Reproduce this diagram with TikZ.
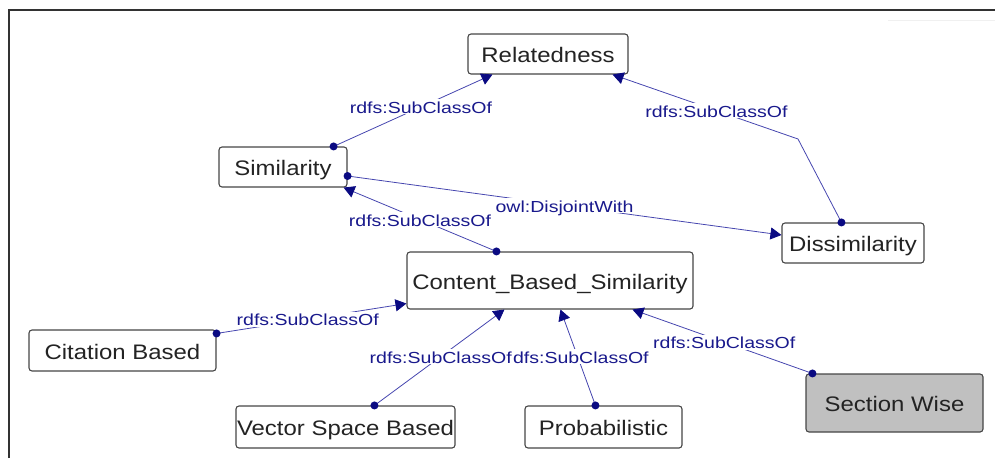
\documentclass[tikz,border=0pt]{standalone}
\usepackage{fontspec}
\setmainfont{Liberation Sans}
\newfontfamily\nodefont[FakeStretch=1.14]{Liberation Sans}
\newfontfamily\labfont[FakeStretch=1.22]{Liberation Sans}
\usetikzlibrary{arrows.meta,calc}

\definecolor{edgeblue}{RGB}{70,70,175}
\definecolor{tipnavy}{RGB}{10,10,130}
\definecolor{labnavy}{RGB}{25,25,140}
\definecolor{boxline}{RGB}{70,70,70}
\definecolor{boxtext}{RGB}{35,35,35}
\definecolor{selgray}{RGB}{192,192,192}
\definecolor{framegray}{RGB}{50,50,50}

\begin{document}
\begin{tikzpicture}[x=1pt,y=-1pt,
  cls/.style={draw=boxline, line width=1.1pt, rounded corners=3pt, fill=white,
              inner sep=0pt, text=boxtext, text height=17pt, text depth=0pt,
              font=\nodefont\fontsize{21}{24}\selectfont},
  selected/.style={cls, fill=selgray},
  lab/.style={fill=white, inner sep=1pt, text=labnavy, text height=13pt, text depth=0pt,
              font=\labfont\fontsize{16}{18}\selectfont},
  link/.style={draw=edgeblue, line width=0.8pt,
               -{Triangle[length=11pt,width=12pt,color=tipnavy]}},
  dotmark/.style={fill=tipnavy}
]
\useasboundingbox (0,0) rectangle (995,458);

% canvas frame
\draw[framegray, line width=2pt] (9,458) -- (9,10) -- (995,10);
\draw[black!6, line width=1pt] (888,20) -- (995,20);

% classes
\node[cls, minimum width=160pt, minimum height=40pt] (rel)  at (548,54)    {Relatedness};
\node[cls, minimum width=128pt, minimum height=40pt] (sim)  at (283,167)   {Similarity};
\node[cls, minimum width=142pt, minimum height=40pt] (dis)  at (853,243)   {Dissimilarity};
\node[cls, minimum width=286pt, minimum height=57pt] (cbs)  at (550,280.5) {Content\_Based\_Similarity};
\node[cls, minimum width=187pt, minimum height=41pt] (cit)  at (122.5,350.5) {Citation Based};
\node[cls, minimum width=219pt, minimum height=42pt] (vsb)  at (345.5,427) {Vector Space Based};
\node[cls, minimum width=157pt, minimum height=42pt] (prob) at (603.5,427) {Probabilistic};
\node[selected, minimum width=177pt, minimum height=58pt] (sw) at (894.5,403) {Section Wise};

% connector end points on the class borders
\coordinate (d1) at ($(sim.north east)+(-14,0)$);
\coordinate (t1) at ($(rel.south west)+(25,0)$);
\coordinate (d2) at ($(dis.north west)+(60,0)$);
\coordinate (b2) at (798,139);
\coordinate (t2) at ($(rel.south east)+(-16,0)$);
\coordinate (d3) at ($(sim.east)+(0,9)$);
\coordinate (t3) at ($(dis.west)+(0,-8)$);
\coordinate (d4) at ($(cbs.north west)+(90,0)$);
\coordinate (t4) at ($(sim.south east)+(-4,0)$);
\coordinate (d5) at ($(cit.north east)+(0,4)$);
\coordinate (t5) at ($(cbs.south west)+(0,-6)$);
\coordinate (d6) at ($(vsb.north west)+(139,0)$);
\coordinate (t6) at ($(cbs.south west)+(98,0)$);
\coordinate (d7) at ($(prob.north west)+(71,0)$);
\coordinate (t7) at ($(cbs.south west)+(154,0)$);
\coordinate (d8) at ($(sw.north west)+(7,0)$);
\coordinate (t8) at ($(cbs.south west)+(226,0)$);

% relations
\draw[link] (d1) -- node[lab, pos=0.55] {rdfs:SubClassOf} (t1);
\draw[link] (d2) -- (b2) -- node[lab, pos=0.44] {rdfs:SubClassOf} (t2);
\draw[link] (d3) -- node[lab, pos=0.5] {owl:DisjointWith} (t3);
\draw[link] (d4) -- node[lab, pos=0.5] {rdfs:SubClassOf} (t4);
\draw[link] (d5) -- node[lab, pos=0.48] {rdfs:SubClassOf} (t5);
\draw[link] (d7) -- node[lab, pos=0.51] {rdfs:SubClassOf} (t7);
\draw[link] (d6) -- node[lab, pos=0.51] {rdfs:SubClassOf} (t6);
\draw[link] (d8) -- node[lab, pos=0.49] {rdfs:SubClassOf} (t8);

% source markers
\foreach \p in {d1,d2,d3,d4,d5,d6,d7,d8}
  \fill[dotmark] (\p) circle (4pt);
\end{tikzpicture}
\end{document}
